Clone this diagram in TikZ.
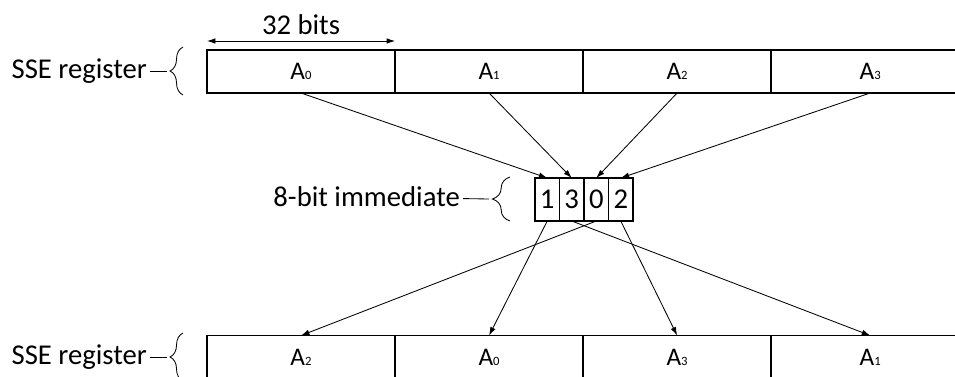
\documentclass[tikz,border=0pt]{standalone}
\usepackage{fontspec}
\setmainfont{Carlito}
\usetikzlibrary{positioning,arrows.meta,calc,decorations.pathreplacing}
\newcommand{\elem}[1]{A{\fontsize{9}{9}\selectfont #1}}

\begin{document}
\begin{tikzpicture}[x=0.025cm, y=-0.025cm, >={Latex[length=6pt,width=4pt]},
	cell/.style={draw, line width=1.2pt, outer sep=0pt, inner sep=2pt, minimum width=4.7cm, minimum height=1.075cm, font=\fontsize{18}{20}\selectfont},
	lastcell/.style={cell, minimum width=4.95cm},
	bit/.style={draw, line width=1.2pt, outer sep=0pt, inner sep=0pt, minimum width=0.6125cm, minimum height=1.075cm, font=\fontsize{20.4}{24}\selectfont},
	lbl/.style={anchor=east, inner sep=2pt, font=\fontsize{20.4}{24}\selectfont},
	curly/.style={decorate, decoration={brace, amplitude=#1}, line width=0.6pt}]
	\useasboundingbox (0,0) rectangle (955,376);
	\clip (0,0) rectangle (955,376);

	  \node[cell, anchor=west] (src1) at (207,71.5) {\elem{0}};
	  \node[cell, right=0pt of src1] (src2) {\elem{1}};
	  \node[cell, right=0pt of src2] (src3) {\elem{2}};
	  \node[lastcell, right=0pt of src3] (src4) {\elem{3}};

	  \node[bit, anchor=west] (sel1) at (535,199.5) {1};
	  \node[bit, right=0pt of sel1] (sel2) {3};
	  \node[bit, right=0pt of sel2] (sel3) {0};
	  \node[bit, right=0pt of sel3] (sel4) {2};

	  \node[cell, anchor=west] (dst1) at (207,357) {\elem{2}};
	  \node[cell, right=0pt of dst1] (dst2) {\elem{0}};
	  \node[cell, right=0pt of dst2] (dst3) {\elem{3}};
	  \node[lastcell, right=0pt of dst3] (dst4) {\elem{1}};

	  \node[lbl] (srclbl) at (150,71) {SSE register};
	  \node[lbl] (sellbl) at (463,197) {8-bit immediate};
	  \node[lbl] (dstlbl) at (150,357) {SSE register};

	  \coordinate (srctip) at (167,71);
	  \coordinate (seltip) at (489,199);
	  \coordinate (dsttip) at (167,357);
	  \draw[curly=9.2pt] (183,95) -- (183,47);
	  \draw[curly=12.5pt] (510,221) -- (510,177);
	  \draw[curly=9.2pt] (183,381) -- (183,333);
	  \draw[line width=0.6pt] (srclbl) -- (srctip);
	  \draw[line width=0.6pt] (sellbl) -- (seltip);
	  \draw[line width=0.6pt] (dstlbl) -- (dsttip);

	  \coordinate (bitsl) at ($(src1.north west)+(0,-9)$);
	  \coordinate (bitsr) at ($(src1.north east)+(0,-9)$);
	  \draw[<->, line width=0.6pt] (bitsl) -- node[above=1pt, font=\fontsize{20.4}{24}\selectfont] {32 bits} (bitsr);

	  \path[->, line width=0.6pt]
	  (src1.south) edge (sel1.north)
	  (src2.south) edge (sel2.north)
	  (src3.south) edge (sel3.north)
	  (src4.south) edge (sel4.north)
	  (sel1.south) edge (dst2.north)
	  (sel2.south) edge (dst4.north)
	  (sel3.south) edge (dst1.north)
	  (sel4.south) edge (dst3.north);
	\end{tikzpicture}
\end{document}
